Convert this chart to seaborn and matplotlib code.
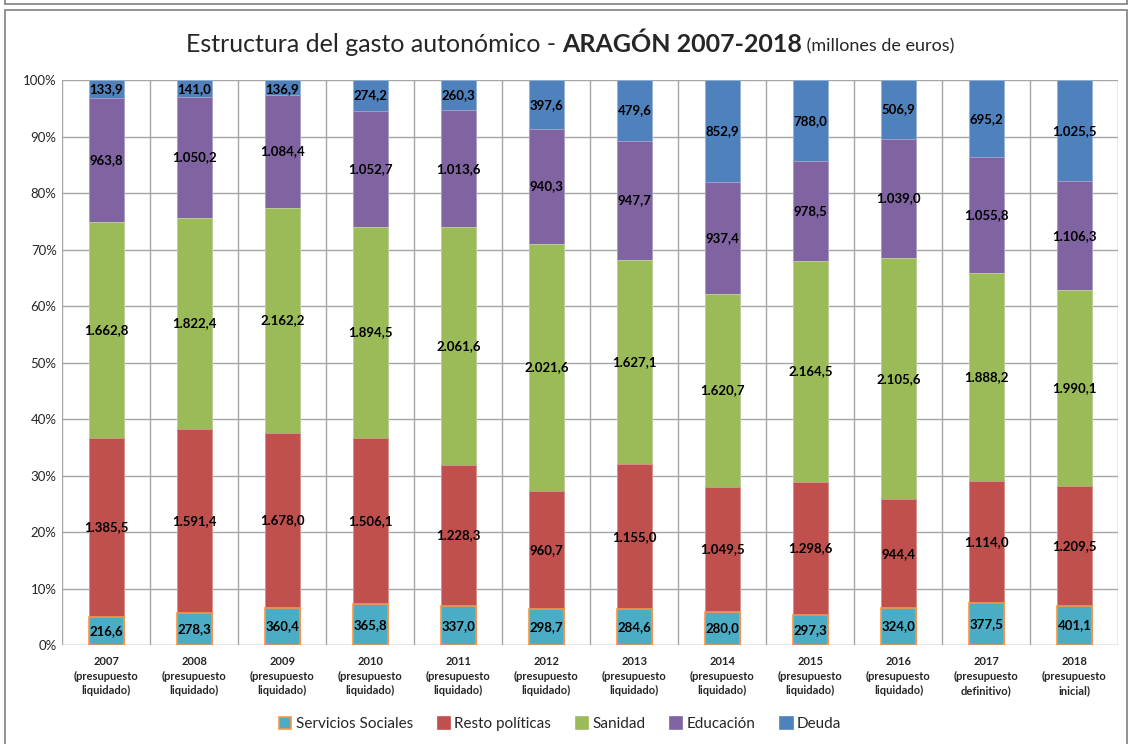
import numpy as np
import pandas as pd
import matplotlib.pyplot as plt
import seaborn as sns
from matplotlib.patches import Rectangle, Patch
from matplotlib.lines import Line2D

sns.set_style("white")
plt.rcParams['font.family'] = ['Lato', 'DejaVu Sans']

# Data (millones de euros)
years = ['2007', '2008', '2009', '2010', '2011', '2012',
         '2013', '2014', '2015', '2016', '2017', '2018']
kinds = ['liquidado'] * 10 + ['definitivo', 'inicial']
servicios_sociales = [216.6, 278.3, 360.4, 365.8, 337.0, 298.7, 284.6, 280.0, 297.3, 324.0, 377.5, 401.1]
resto_politicas = [1385.5, 1591.4, 1678.0, 1506.1, 1228.3, 960.7, 1155.0, 1049.5, 1298.6, 944.4, 1114.0, 1209.5]
sanidad = [1662.8, 1822.4, 2162.2, 1894.5, 2061.6, 2021.6, 1627.1, 1620.7, 2164.5, 2105.6, 1888.2, 1990.1]
educacion = [963.8, 1050.2, 1084.4, 1052.7, 1013.6, 940.3, 947.7, 937.4, 978.5, 1039.0, 1055.8, 1106.3]
deuda = [133.9, 141.0, 136.9, 274.2, 260.3, 397.6, 479.6, 852.9, 788.0, 506.9, 695.2, 1025.5]

series = ['Servicios Sociales', 'Resto políticas', 'Sanidad', 'Educación', 'Deuda']
colors = ['#4BACC6', '#C0504D', '#9BBB59', '#8064A2', '#4F81BD']
edges = ['#F79646', '#D99694', '#C3D69B', '#B3A2C7', '#95B3D7']

labels = [f"{y}\n(presupuesto\n{k})" for y, k in zip(years, kinds)]
df = pd.DataFrame({'Año': labels,
                   'Servicios Sociales': servicios_sociales,
                   'Resto políticas': resto_politicas,
                   'Sanidad': sanidad,
                   'Educación': educacion,
                   'Deuda': deuda})
total = df[series].sum(axis=1)
pct = df[series].div(total, axis=0) * 100
cum = pct.cumsum(axis=1)


def fmt(v):
    s = f"{v:,.1f}"
    return s.replace(',', 'X').replace('.', ',').replace('X', '.')


fig = plt.figure(figsize=(11.32, 7.44), dpi=100)
ax = fig.add_axes([0.055, 0.133, 0.933, 0.759])

# overlapping cumulative bars, top series first
for i in range(len(series) - 1, -1, -1):
    tmp = pd.DataFrame({'Año': labels, 'y': cum[series[i]].values})
    sns.barplot(data=tmp, x='Año', y='y', color=colors[i], saturation=1,
                width=0.4, ax=ax, edgecolor=edges[i],
                linewidth=1.2 if i == 0 else 0.6, zorder=3)

# value labels
for i, s in enumerate(series):
    for j in range(len(years)):
        mid = cum[s].iloc[j] - pct[s].iloc[j] / 2
        if s == 'Deuda' and pct[s].iloc[j] < 4:
            mid = 100 - 1.6
        ax.text(j, mid, fmt(df[s].iloc[j]), ha='center', va='center',
                fontsize=9.5, fontweight='bold', color='black', zorder=5)

ax.set_ylim(0, 100)
ax.set_xlim(-0.5, len(years) - 0.5)
ax.set_yticks(np.arange(0, 101, 10))
ax.set_yticklabels([f"{v}%" for v in range(0, 101, 10)], fontsize=9.5)
ax.set_xticks(range(len(years)))
ax.set_xticklabels(labels, fontsize=8, fontweight='bold', linespacing=1.4)
ax.tick_params(axis='x', length=0, pad=8)
ax.tick_params(axis='y', length=0, pad=4)
ax.set_xlabel('')
ax.set_ylabel('')
for y in range(10, 101, 10):
    ax.axhline(y, color='#A6A6A6', lw=1, zorder=1)
for x in np.arange(-0.5, len(years), 1):
    ax.axvline(x, color='#A6A6A6', lw=1, zorder=1)
for sp in ax.spines.values():
    sp.set_visible(False)
ax.axhline(0, color='#8C8C8C', lw=1, zorder=4)

# title with mixed weights
t1 = fig.text(0.0, 0.94, 'Estructura del gasto autonómico - ', fontsize=18, va='center')
t2 = fig.text(0.0, 0.94, 'ARAGÓN 2007-2018', fontsize=18, fontweight='bold', va='center')
t3 = fig.text(0.0, 0.937, ' (millones de euros)', fontsize=13, va='center')
fig.canvas.draw()
r = fig.canvas.get_renderer()
ws = [t.get_window_extent(r).width for t in (t1, t2, t3)]
x0 = (570 - sum(ws) / 2)
for t, w in zip((t1, t2, t3), ws):
    t.set_x(x0 / fig.bbox.width)
    x0 += w

# legend
handles = [Patch(facecolor=c, edgecolor=e if i == 0 else c, linewidth=1.2)
           for i, (c, e) in enumerate(zip(colors, edges))]
fig.legend(handles, series, loc='center', bbox_to_anchor=(0.495, 0.027), ncol=5,
           frameon=False, fontsize=11, handlelength=0.8, handleheight=0.8,
           handletextpad=0.3, columnspacing=1.6)

# outer frames
fig.patches.append(Rectangle((0.004, -0.01), 0.992, 0.997, transform=fig.transFigure,
                             fill=False, edgecolor='#7F7F7F', lw=1.2))
fig.lines.append(Line2D([0.004, 0.996], [0.995, 0.995], transform=fig.transFigure,
                        color='#7F7F7F', lw=1.2))
fig.lines.append(Line2D([0.004, 0.004], [0.995, 1.0], transform=fig.transFigure,
                        color='#7F7F7F', lw=1.2))
fig.lines.append(Line2D([0.996, 0.996], [0.995, 1.0], transform=fig.transFigure,
                        color='#7F7F7F', lw=1.2))

fig.savefig('out.png', dpi=100)
